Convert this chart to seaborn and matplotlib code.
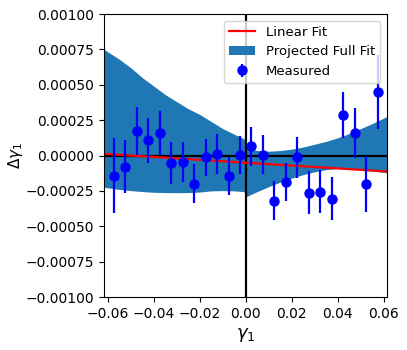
import numpy as np
import pandas as pd
import seaborn as sns
import matplotlib
matplotlib.use("Agg")
import matplotlib.pyplot as plt

# measured points
gamma1 = [-0.0575, -0.0525, -0.0475, -0.0425, -0.0375, -0.0325, -0.0275, -0.0225,
          -0.0175, -0.0125, -0.0075, -0.0025, 0.0025, 0.0075, 0.0125, 0.0175,
          0.0225, 0.0275, 0.0325, 0.0375, 0.0425, 0.0475, 0.0525, 0.0575]
dgamma1 = [-0.000144, -0.000078, 0.000175, 0.000108, 0.000160, -0.000054, -0.000047, -0.000198,
           -0.000014, 0.000010, -0.000144, 0.000005, 0.000064, 0.000005, -0.000318, -0.000186,
           -0.000012, -0.000262, -0.000255, -0.000304, 0.000285, 0.000158, -0.000200, 0.000448]
dgamma1_err = [0.000265, 0.000190, 0.000170, 0.000160, 0.000158, 0.000150, 0.000140, 0.000140,
               0.000134, 0.000140, 0.000136, 0.000135, 0.000135, 0.000139, 0.000137, 0.000136,
               0.000144, 0.000150, 0.000150, 0.000150, 0.000163, 0.000177, 0.000198, 0.000260]

# linear fit end points
fit_x = [-0.0617, 0.0615]
fit_y = [0.000012, -0.000113]

# projected full fit band (two branches, split at zero)
band_left_x = [-0.0617, -0.055, -0.05, -0.045, -0.04, -0.035, -0.03, -0.025, -0.02,
               -0.015, -0.01, -0.005, -0.001, 0.0]
band_left_hi = [0.00075, 0.00068, 0.00062, 0.00055, 0.00049, 0.00043, 0.00038, 0.00033, 0.00029,
                0.00024, 0.00019, 0.00015, 0.00012, 0.00011]
band_left_lo = [-0.000224, -0.000240, -0.000248, -0.000255, -0.000260, -0.000262, -0.000263, -0.000262,
                -0.000258, -0.000250, -0.000248, -0.000250, -0.000255, -0.000262]
band_right_x = [0.0, 0.005, 0.01, 0.015, 0.02, 0.025, 0.03, 0.035, 0.04, 0.045, 0.05, 0.055, 0.0615]
band_right_hi = [0.000055, 0.000035, 0.000030, 0.000035, 0.000045, 0.000060, 0.000080, 0.000100,
                 0.000125, 0.000155, 0.000190, 0.000225, 0.000276]
band_right_lo = [-0.000292, -0.000255, -0.000220, -0.000188, -0.000160, -0.000135, -0.000115,
                 -0.000100, -0.000092, -0.000092, -0.000100, -0.000110, -0.000122]

fig = plt.figure(figsize=(4.07, 3.5), dpi=100)
ax = fig.add_axes([0.2555, 0.1514, 0.6955, 0.8086])

ax.fill_between(band_left_x, band_left_lo, band_left_hi, color="#1f77b4", lw=0,
                label="Projected Full Fit")
ax.fill_between(band_right_x, band_right_lo, band_right_hi, color="#1f77b4", lw=0)

ax.axhline(0, color="black", lw=1.6)
ax.axvline(0, color="black", lw=1.6)

fit = pd.DataFrame({"x": fit_x, "y": fit_y})
sns.lineplot(data=fit, x="x", y="y", color="red", lw=1.6, label="Linear Fit", ax=ax)

ax.errorbar(gamma1, dgamma1, yerr=dgamma1_err, fmt="o", color="blue", ms=6.5,
            elinewidth=1.6, label="Measured", zorder=5)

ax.set_xlim(-0.0617, 0.0615)
ax.set_ylim(-0.001, 0.001)
ax.set_xticks([-0.06, -0.04, -0.02, 0.0, 0.02, 0.04, 0.06])
ax.set_yticks(np.arange(-0.001, 0.00101, 0.00025))
ax.set_xlabel(r"$\gamma_1$", fontsize=13)
ax.set_ylabel(r"$\Delta\gamma_1$", fontsize=11)
ax.yaxis.set_label_coords(-0.28, 0.5)

h, l = ax.get_legend_handles_labels()
order = [l.index("Linear Fit"), l.index("Projected Full Fit"), l.index("Measured")]
ax.legend([h[i] for i in order], [l[i] for i in order], loc="upper right", fontsize=9.5)

fig.savefig("out.png", dpi=100)
